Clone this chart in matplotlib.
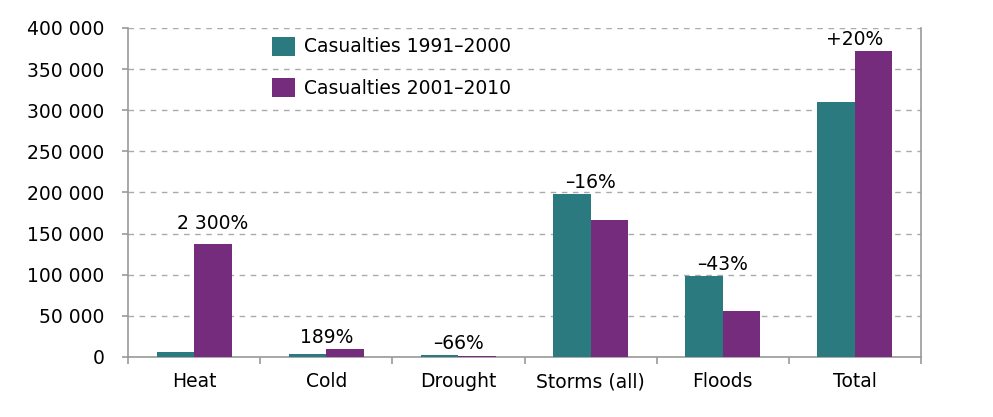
import numpy as np
import matplotlib
matplotlib.use("Agg")
import matplotlib.pyplot as plt
from matplotlib.ticker import FuncFormatter

# data
categories = ["Heat", "Cold", "Drought", "Storms (all)", "Floods", "Total"]
cas_1991_2000 = [5700, 3500, 2800, 197800, 98900, 309600]
cas_2001_2010 = [137000, 10100, 950, 166800, 55900, 372000]
changes = ["2 300%", "189%", "\u201366%", "\u201316%", "\u201343%", "+20%"]
series_names = ["Casualties 1991\u20132000", "Casualties 2001\u20132010"]

teal = "#2a7a80"
purple = "#762c7c"

plt.rcParams['font.family'] = ['DejaVu Sans']
plt.rcParams['font.size'] = 13.5

fig = plt.figure(figsize=(9.93, 4.17), dpi=100)
ax = fig.add_axes([0.1289, 0.1439, 0.7986, 0.789])

x = np.arange(len(categories))
w = 0.284
b1 = ax.bar(x - w / 2, cas_1991_2000, w, color=teal, label=series_names[0], zorder=3)
b2 = ax.bar(x + w / 2, cas_2001_2010, w, color=purple, label=series_names[1], zorder=3)

# percentage change labels
for i, txt in enumerate(changes):
    top = max(cas_1991_2000[i], cas_2001_2010[i])
    if i == 0:
        # heat label sits over the purple bar, a bit higher
        ax.annotate(txt, (x[i] + w / 2, top), xytext=(0, 8), textcoords="offset points",
                    ha="center", va="bottom")
    else:
        ax.annotate(txt, (x[i], top), xytext=(0, 1.5), textcoords="offset points",
                    ha="center", va="bottom")

ax.set_xlim(-0.5, len(categories) - 0.5)
ax.set_ylim(0, 400000)
ax.set_yticks(np.arange(0, 400001, 50000))
ax.yaxis.set_major_formatter(FuncFormatter(lambda v, p: "{:,}".format(int(v)).replace(",", " ")))

ax.set_xticks(x)
ax.set_xticklabels(categories)
ax.set_xticks(np.arange(-0.5, len(categories), 1), minor=True)
ax.tick_params(axis="x", which="major", length=0, pad=11)
ax.tick_params(axis="x", which="minor", length=5, color="#999999", width=1.2)
ax.tick_params(axis="y", length=4, color="#999999", width=1.2, pad=13)

ax.grid(axis="y", linestyle=(0, (4, 4)), color="#aaaaaa", linewidth=1.0, zorder=0)
ax.set_axisbelow(True)

for s in ["left", "bottom", "right"]:
    ax.spines[s].set_color("#999999")
    ax.spines[s].set_linewidth(1.2)
ax.spines["top"].set_visible(False)

leg = ax.legend(loc="upper left", bbox_to_anchor=(0.1816, 0.974), frameon=False,
                handlelength=1.2, handleheight=1.2, labelspacing=1.15,
                handletextpad=0.5, borderaxespad=0, borderpad=0)

plt.savefig("out.png", dpi=100)
